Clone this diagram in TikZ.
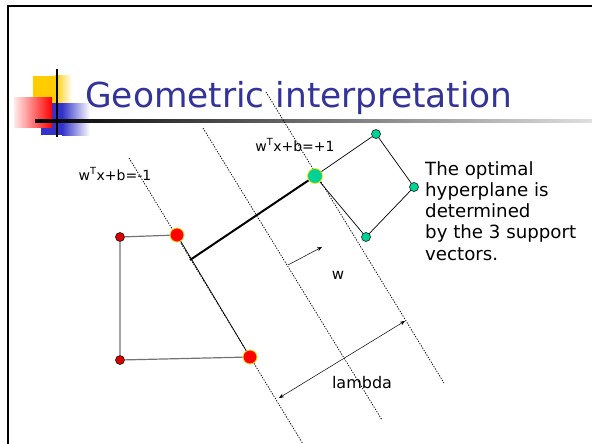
\documentclass[tikz,border=0pt]{standalone}
\usepackage{fontspec}
\setmainfont{DejaVu Sans}
\usetikzlibrary{arrows.meta}
\definecolor{titleblue}{RGB}{51,51,153}
\definecolor{svred}{RGB}{255,0,0}
\definecolor{svyellow}{RGB}{255,230,0}
\definecolor{svteal}{RGB}{0,210,150}
\definecolor{boxyellow}{RGB}{255,204,0}
\definecolor{boxblue}{RGB}{51,51,204}
\tikzset{
  margin/.style={draw=black, dash pattern=on 1.3pt off 1.4pt, line width=0.75pt},
  bigred/.style={circle, fill=svred, draw=svyellow, line width=0.8pt, minimum size=14pt, inner sep=0pt},
  smallred/.style={circle, fill=red!85!black, draw=black, line width=0.5pt, minimum size=9pt, inner sep=0pt},
  bigteal/.style={circle, fill=svteal, draw=svyellow, line width=0.8pt, minimum size=15pt, inner sep=0pt},
  smallteal/.style={circle, fill=svteal, draw=black, line width=0.5pt, minimum size=9pt, inner sep=0pt},
  hullgray/.style={draw=gray!90!black, line width=1.2pt},
  hullblack/.style={draw=black, line width=0.7pt},
  vecarrow/.style={draw=black, line width=0.5pt},
  lbl/.style={font=\fontsize{14}{16}\selectfont, inner sep=0pt},
}
\begin{document}
\begin{tikzpicture}[x=1pt,y=-1pt]
\useasboundingbox (0,0) rectangle (592,444);
% slide frame
\draw[line width=2.5pt] (8,444) -- (8,6) -- (592,6);
% title decoration
\fill[boxyellow] (33,76) rectangle (55,103);
\shade[left color=boxyellow, right color=white] (55,76) rectangle (72,103);
\fill[boxblue] (41,103) rectangle (62,135);
\shade[left color=boxblue, right color=white] (62,103) rectangle (90,135);
\shade[left color=red!8, right color=red] (14,98) rectangle (52,127);
\shade[left color=black, right color=gray!25] (35,119.5) rectangle (592,122.5);
\draw[line width=2.8pt] (57,69) -- (57,137);
% title
\node[anchor=base west, text=titleblue, font=\fontsize{34.4}{38}\selectfont, inner sep=0pt] (title) at (85,107) {Geometric interpretation};
% margin lines
\coordinate (m1a) at (129,158); \coordinate (m1b) at (303,444);
\coordinate (m2a) at (203,128); \coordinate (m2b) at (382,420);
\coordinate (m3a) at (266,92);  \coordinate (m3b) at (444,383);
\draw[margin] (m1a) -- (m1b);
\draw[margin] (m2a) -- (m2b);
\draw[margin] (m3a) -- (m3b);
% points
\node[smallred] (r1) at (120,237) {};
\node[smallred] (r2) at (120,360) {};
\node[bigred] (R1) at (177,235) {};
\node[bigred] (R2) at (250,357) {};
\node[smallteal] (t1) at (376,134) {};
\node[smallteal] (t2) at (414,187) {};
\node[smallteal] (t3) at (366,237) {};
\node[bigteal] (T1) at (315,176) {};
% hulls
\draw[hullgray] (R1) -- (r1) -- (r2) -- (R2);
\draw[hullblack] (R1) -- (R2);
\draw[hullblack] (T1) -- (t1) -- (t2) -- (t3) -- (T1);
% margin width
\coordinate (mfoot) at (190,260);
\draw[line width=2pt] (mfoot) -- (T1);
% w vector
\coordinate (wa) at (288,265); \coordinate (wb) at (322,247);
\draw[vecarrow, -{Stealth[length=5pt,width=4pt]}] (wa) -- (wb);
\node[lbl, font=\fontsize{15}{17}\selectfont] (wl) at (338,275) {w};
% lambda
\coordinate (la) at (279,398); \coordinate (lb) at (405,321);
\draw[vecarrow, {Stealth[length=5pt,width=4pt]}-{Stealth[length=5pt,width=4pt]}] (la) -- (lb);
\node[lbl, font=\fontsize{16}{18}\selectfont] (ll) at (362,383) {lambda};
% plane labels
\node[lbl] (neg) at (115,174) {w\textsuperscript{T}x+b=-1};
\node[lbl] (pos) at (295,145) {w\textsuperscript{T}x+b=+1};
% description
\node[anchor=north west, align=left, inner sep=0pt, font=\fontsize{18.2}{21.3}\selectfont] (desc) at (425,161)
  {The optimal\\hyperplane is\\determined\\by the 3 support\\vectors.};
\end{tikzpicture}
\end{document}
